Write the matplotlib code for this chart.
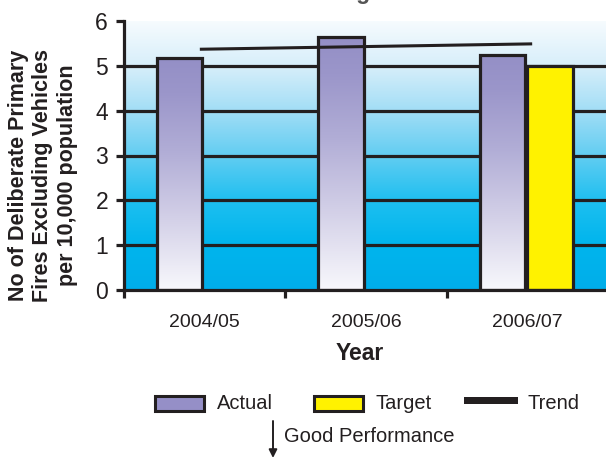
import numpy as np
import matplotlib
matplotlib.use("Agg")
import matplotlib.pyplot as plt
from matplotlib.colors import LinearSegmentedColormap
from matplotlib.patches import Rectangle

plt.rcParams['font.family'] = ['Liberation Sans', 'DejaVu Sans']

# ---- data ----
years = ["2004/05", "2005/06", "2006/07"]
actual = [5.17, 5.65, 5.25]
target = [None, None, 5.0]
trend = [5.37, 5.49]          # trend line value at first and last year
yticks = [0, 1, 2, 3, 4, 5, 6]

INK = "#231f20"
YELLOW = "#fff200"

W, H = 606, 457
fig = plt.figure(figsize=(W / 100, H / 100), dpi=100)
ax = fig.add_axes([124 / W, 1 - 290 / H, 484 / W, 269 / H])

# sky-blue vertical gradient background
bg_cmap = LinearSegmentedColormap.from_list(
    "bg",
    [(0.0, "#00aeea"), (0.17, "#00b5ed"), (0.33, "#1ebff0"),
     (0.5, "#62cdf2"), (0.67, "#a3def6"), (0.83, "#d6eefa"), (1.0, "#f6fbfe")])
grad = np.linspace(0, 1, 256).reshape(-1, 1)
ax.imshow(grad, cmap=bg_cmap, origin="lower", aspect="auto",
          extent=[0, len(years), 0, 6], zorder=0)

# heavy horizontal grid lines
for v in yticks[1:-1]:
    ax.axhline(v, color=INK, lw=2.3, zorder=1)

# bars: lavender gradient for actual, yellow for target
bar_cmap = LinearSegmentedColormap.from_list(
    "bar", [(0.0, "#f8f8fc"), (0.3, "#d4d1e8"), (0.6, "#b1add6"),
            (0.85, "#9b96ca"), (1.0, "#948fc6")])
bw = 0.28
x = np.arange(len(years))
for i, v in enumerate(actual):
    xc = x[i] + 0.345
    bars = ax.bar(xc, v, width=bw, facecolor="none", edgecolor=INK,
                  linewidth=2.3, zorder=3)
    img = ax.imshow(grad, cmap=bar_cmap, origin="lower", aspect="auto",
                    extent=[xc - bw / 2, xc + bw / 2, 0, v], zorder=2)
    img.set_clip_path(bars.patches[0])
for i, v in enumerate(target):
    if v is None:
        continue
    ax.bar(x[i] + 0.345 + bw + 0.015, v, width=bw, facecolor=YELLOW,
           edgecolor=INK, linewidth=2.3, zorder=3)

# linear trend across the period
ax.plot([x[0] + 0.47, x[-1] + 0.53], trend, color=INK, lw=2.2,
        solid_capstyle="butt", zorder=4)

ax.set_aspect("auto")
ax.set_xlim(0, len(years))
ax.set_ylim(0, 6)

# axes styling
for s in ("top", "right"):
    ax.spines[s].set_visible(False)
for s in ("left", "bottom"):
    ax.spines[s].set_color(INK)
    ax.spines[s].set_linewidth(2.3)
    ax.spines[s].set_zorder(5)

ax.set_yticks(yticks)
ax.set_yticklabels([str(t) for t in yticks])
ax.tick_params(axis="y", direction="out", length=5.5, width=2.3, color=INK,
               labelsize=16.5, labelcolor=INK, pad=6)

ax.set_xticks(range(len(years) + 1))
ax.set_xticklabels([])
ax.set_xticks(x + 0.5, minor=True)
ax.set_xticklabels(years, minor=True)
ax.tick_params(axis="x", which="major", direction="out", length=6,
               width=2.3, color=INK)
ax.tick_params(axis="x", which="minor", length=0, labelsize=14,
               labelcolor=INK, pad=17)

# axis titles
fig.text(43 / W, 1 - 175 / H,
         "No of Deliberate Primary\nFires Excluding Vehicles\nper 10,000 population",
         rotation=90, ha="center", va="center", fontsize=15.5,
         fontweight="bold", color=INK, linespacing=1.22)
fig.text(360 / W, 1 - 353 / H, "Year", ha="center", va="center",
         fontsize=16.5, fontweight="bold", color=INK)
fig.text(365 / W, 1 + 1 / H, "Excluding Vehicles", ha="center",
         va="baseline", fontsize=16.5, fontweight="bold", color="#555555")

# legend and performance note, drawn on a pixel-space overlay
ov = fig.add_axes([0, 0, 1, 1], zorder=10)
ov.set_xlim(0, W)
ov.set_ylim(H, 0)
ov.axis("off")
ov.patch.set_visible(False)

ov.add_patch(Rectangle((154.5, 396), 49, 15, facecolor="#958fc7",
                       edgecolor=INK, lw=2.2))
ov.text(217, 403.5, "Actual", va="center", ha="left", fontsize=14.5,
        color=INK)
ov.add_patch(Rectangle((313.5, 396), 49, 15, facecolor=YELLOW,
                       edgecolor=INK, lw=2.2))
ov.text(376, 403.5, "Target", va="center", ha="left", fontsize=14.5,
        color=INK)
ov.add_patch(Rectangle((464, 397), 54, 7, facecolor=INK, edgecolor="none"))
ov.text(528, 403.5, "Trend", va="center", ha="left", fontsize=14.5,
        color=INK)

ov.annotate("", xy=(273, 458), xytext=(273, 421), annotation_clip=False,
            arrowprops=dict(arrowstyle="-|>", color=INK, lw=1.4,
                            mutation_scale=12, shrinkA=0, shrinkB=0))
ov.text(284, 437, "Good Performance", va="center", ha="left",
        fontsize=14.5, color=INK)

fig.savefig("out.png", dpi=100)
